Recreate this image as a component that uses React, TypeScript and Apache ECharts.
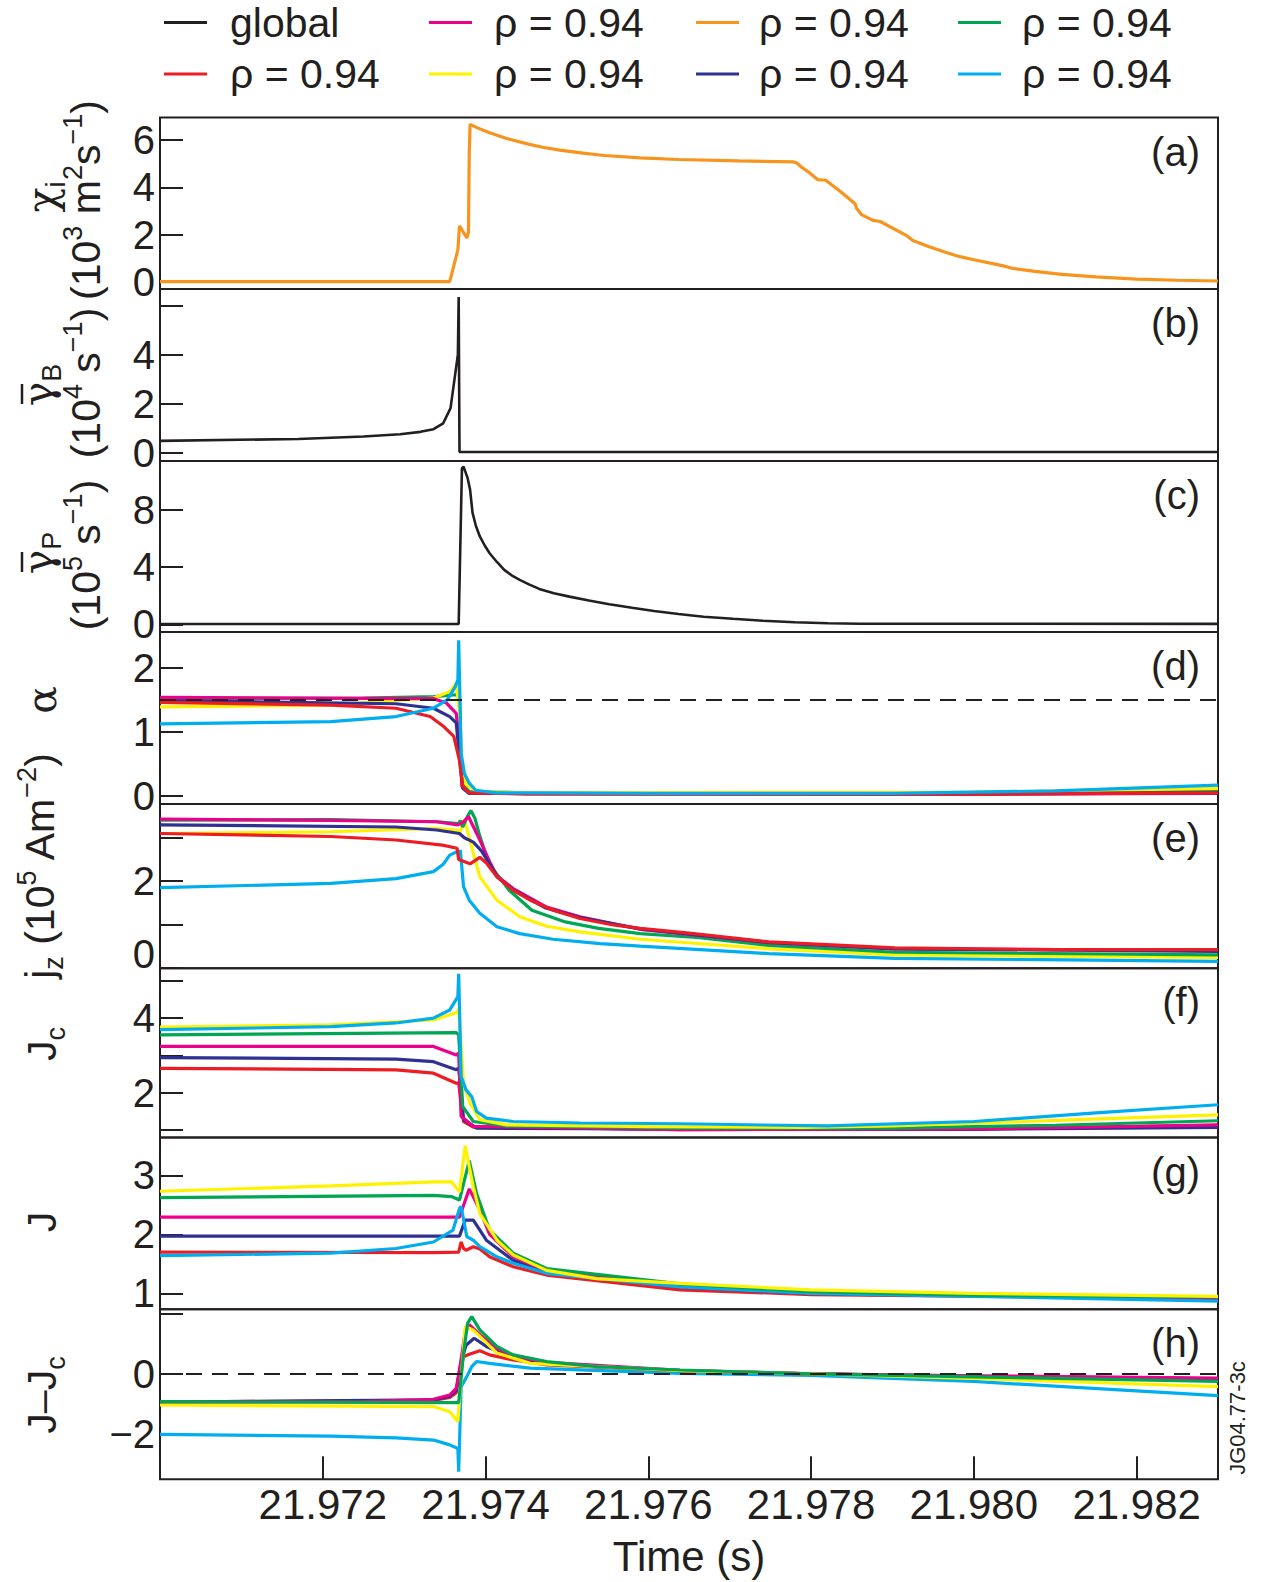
import React, { useEffect, useRef } from 'react';
import * as echarts from 'echarts';

// ---------------- data ----------------
const X_MIN = 21.970;
const X_MAX = 21.983;
const X_TICKS = [21.972, 21.974, 21.976, 21.978, 21.980, 21.982];

// (a) chi_i (10^3 m^2 s^-1)
const CHI_I = [[21.9700,0],[21.97356,0],[21.97366,1.35],[21.97368,2.37],[21.97377,1.85],[21.97379,2.1],[21.97380,5.5],[21.97381,6.67],[21.97390,6.52],[21.97405,6.31],[21.97425,6.08],[21.97454,5.82],[21.97470,5.70],[21.97491,5.58],[21.97520,5.45],[21.97546,5.35],[21.97590,5.25],[21.97637,5.18],[21.97711,5.12],[21.97778,5.08],[21.97782,5.04],[21.97787,4.89],[21.97798,4.62],[21.97808,4.33],[21.97818,4.30],[21.97836,3.82],[21.97854,3.30],[21.97856,3.10],[21.97862,2.84],[21.97876,2.60],[21.97885,2.55],[21.97918,1.94],[21.97925,1.75],[21.97945,1.48],[21.97967,1.23],[21.97983,1.06],[21.98000,0.93],[21.98035,0.68],[21.98047,0.57],[21.98075,0.44],[21.98108,0.31],[21.98150,0.20],[21.98200,0.11],[21.98250,0.06],[21.98300,0.03]];

// (b) gamma_B (10^4 s^-1)
const GAMMA_B = [[21.9700,0.48],[21.9717,0.56],[21.9725,0.66],[21.97295,0.75],[21.97320,0.85],[21.97336,0.96],[21.97348,1.2],[21.97357,1.82],[21.97366,4.0],[21.97367,6.35],[21.97368,0.03],[21.9830,0.03]];

// (c) gamma_P (10^5 s^-1)
const GAMMA_P = [[21.9700,0.02],[21.97367,0.02],[21.97371,10.9],[21.97373,11.0],[21.97378,10.2],[21.97381,9.4],[21.97384,7.8],[21.97388,6.9],[21.97393,6.13],[21.97399,5.5],[21.97405,4.96],[21.97414,4.35],[21.97423,3.80],[21.97432,3.42],[21.97442,3.10],[21.97454,2.77],[21.97466,2.47],[21.97484,2.17],[21.97503,1.93],[21.97527,1.66],[21.97552,1.40],[21.97580,1.15],[21.97607,0.93],[21.97637,0.72],[21.97668,0.53],[21.97704,0.38],[21.97741,0.25],[21.97780,0.14],[21.97821,0.07],[21.9786,0.04],[21.9830,0.03]];

// (d) alpha
const ALPHA_RED = [[21.9700,1.46],[21.9721,1.42],[21.9729,1.37],[21.97332,1.24],[21.97349,1.08],[21.97361,0.93],[21.97368,0.55],[21.97372,0.15],[21.97380,0.05],[21.9745,0.03],[21.9800,0.03],[21.9830,0.05]];
const ALPHA_NAVY = [[21.9700,1.49],[21.9729,1.44],[21.97336,1.37],[21.97356,1.24],[21.97364,1.14],[21.97368,0.6],[21.97372,0.12],[21.9738,0.04],[21.9800,0.03],[21.9830,0.05]];
const ALPHA_MAGENTA = [[21.9700,1.54],[21.97336,1.52],[21.97352,1.45],[21.97364,1.29],[21.97368,0.8],[21.97371,0.15],[21.9738,0.04],[21.9800,0.03],[21.9830,0.04]];
const ALPHA_GREEN = [[21.9700,1.52],[21.9725,1.53],[21.97336,1.55],[21.97364,1.58],[21.97368,1.56],[21.97370,0.6],[21.97374,0.15],[21.97380,0.07],[21.9745,0.05],[21.9800,0.05],[21.9830,0.09]];
const ALPHA_YELLOW = [[21.9700,1.39],[21.9721,1.42],[21.97336,1.53],[21.97356,1.63],[21.97364,1.76],[21.97368,1.3],[21.97371,0.4],[21.97376,0.18],[21.9739,0.07],[21.9745,0.05],[21.9800,0.06],[21.9830,0.12]];
const ALPHA_CYAN = [[21.9700,1.125],[21.9721,1.16],[21.9729,1.24],[21.97336,1.37],[21.97353,1.50],[21.97363,1.71],[21.97366,1.82],[21.97367,2.43],[21.97370,0.67],[21.97374,0.35],[21.97380,0.20],[21.97388,0.09],[21.97413,0.05],[21.9760,0.04],[21.9790,0.04],[21.9810,0.08],[21.9830,0.17]];
const ALPHA_REF = [[X_MIN,1.5],[X_MAX,1.5]];

// (e) j_z (10^5 A m^-2)
const JZ_RED = [[21.9700,3.10],[21.9721,3.03],[21.9729,2.95],[21.97347,2.83],[21.97365,2.76],[21.97367,2.50],[21.97381,2.40],[21.97393,2.55],[21.97401,2.42],[21.97414,2.10],[21.97434,1.79],[21.97455,1.56],[21.97483,1.33],[21.97516,1.14],[21.97557,0.99],[21.97590,0.91],[21.9765,0.80],[21.97748,0.60],[21.97903,0.46],[21.9810,0.42],[21.9830,0.42]];
const JZ_MAGENTA = [[21.9700,3.43],[21.9721,3.40],[21.97340,3.37],[21.97366,3.30],[21.97372,3.35],[21.97379,3.49],[21.97393,2.95],[21.97405,2.45],[21.97414,2.12],[21.97434,1.83],[21.97474,1.41],[21.97516,1.18],[21.97590,0.89],[21.97748,0.58],[21.97903,0.44],[21.9830,0.40]];
const JZ_NAVY = [[21.9700,3.30],[21.9729,3.25],[21.97340,3.18],[21.97368,3.10],[21.97374,3.0],[21.97385,2.9],[21.97395,2.7],[21.97405,2.40],[21.97414,2.10],[21.97434,1.80],[21.97474,1.38],[21.97516,1.16],[21.97590,0.90],[21.97748,0.59],[21.97903,0.44],[21.9830,0.38]];
const JZ_GREEN = [[21.9700,3.41],[21.9721,3.42],[21.97340,3.37],[21.97367,3.33],[21.97369,3.40],[21.97372,3.25],[21.97378,3.50],[21.97382,3.63],[21.97387,3.45],[21.97392,3.10],[21.97404,2.41],[21.97429,1.79],[21.97457,1.33],[21.97498,1.06],[21.97539,0.91],[21.97590,0.79],[21.9766,0.70],[21.97748,0.52],[21.97903,0.36],[21.9830,0.30]];
const JZ_YELLOW = [[21.9700,3.10],[21.9721,3.14],[21.97340,3.22],[21.97365,3.18],[21.97368,3.10],[21.97374,3.43],[21.97385,2.64],[21.97393,2.10],[21.97414,1.56],[21.97442,1.18],[21.97475,0.96],[21.97516,0.83],[21.97590,0.66],[21.97748,0.44],[21.97903,0.30],[21.9830,0.24]];
const JZ_CYAN = [[21.9700,1.85],[21.9721,1.95],[21.9729,2.06],[21.97336,2.22],[21.97348,2.39],[21.97356,2.60],[21.97367,2.70],[21.97368,2.60],[21.97369,2.72],[21.97373,1.87],[21.97380,1.56],[21.97393,1.26],[21.97414,0.95],[21.97442,0.79],[21.97483,0.66],[21.97541,0.56],[21.97590,0.50],[21.97748,0.33],[21.97903,0.22],[21.9830,0.15]];

// (f) J_c
const JC_YELLOW = [[21.9700,3.76],[21.9721,3.82],[21.97336,3.95],[21.97365,4.15],[21.97367,4.24],[21.97373,2.25],[21.97381,1.72],[21.97393,1.27],[21.97426,1.13],[21.9760,1.08],[21.9779,1.06],[21.9790,1.10],[21.9810,1.25],[21.9830,1.40]];
const JC_CYAN = [[21.9700,3.69],[21.9721,3.77],[21.9729,3.87],[21.97336,4.0],[21.97356,4.22],[21.97366,4.58],[21.97367,5.19],[21.97370,2.43],[21.97376,2.07],[21.97383,1.89],[21.97389,1.49],[21.97401,1.31],[21.97434,1.22],[21.97516,1.18],[21.9764,1.16],[21.9782,1.10],[21.9800,1.22],[21.9815,1.45],[21.9830,1.67]];
const JC_GREEN = [[21.9700,3.55],[21.97364,3.61],[21.97367,3.55],[21.97372,1.62],[21.97385,1.22],[21.97426,1.10],[21.9764,1.04],[21.9790,1.04],[21.9810,1.12],[21.9830,1.24]];
const JC_MAGENTA = [[21.9700,3.24],[21.97336,3.24],[21.97364,3.01],[21.97367,3.06],[21.97370,1.36],[21.97385,1.09],[21.9764,1.0],[21.9800,1.02],[21.9830,1.13]];
const JC_NAVY = [[21.9700,2.94],[21.9729,2.90],[21.97336,2.83],[21.97364,2.61],[21.97367,2.66],[21.97373,1.27],[21.97389,1.04],[21.9764,1.02],[21.9800,1.01],[21.9830,1.06]];
const JC_RED = [[21.9700,2.65],[21.9729,2.61],[21.97336,2.52],[21.97364,2.25],[21.97367,2.25],[21.97373,1.22],[21.97385,1.07],[21.9764,1.0],[21.9800,1.02],[21.9830,1.12]];

// (g) J
const J_YELLOW = [[21.9700,2.73],[21.9721,2.82],[21.97336,2.89],[21.97358,2.89],[21.97368,2.72],[21.97375,3.50],[21.97385,2.80],[21.97393,2.35],[21.97414,1.90],[21.97434,1.65],[21.97475,1.39],[21.97536,1.25],[21.97639,1.17],[21.9780,1.06],[21.9800,1.0],[21.9830,0.95]];
const J_GREEN = [[21.9700,2.62],[21.97336,2.66],[21.97358,2.64],[21.97368,2.58],[21.97380,3.25],[21.97389,2.69],[21.97405,2.07],[21.97434,1.68],[21.97475,1.42],[21.97639,1.16],[21.9780,1.03],[21.9800,0.97],[21.9830,0.94]];
const J_MAGENTA = [[21.9700,2.29],[21.97368,2.29],[21.97372,2.45],[21.97380,2.77],[21.97393,2.41],[21.97405,2.0],[21.97434,1.62],[21.97475,1.38],[21.97639,1.13],[21.9780,1.01],[21.9830,0.92]];
const J_NAVY = [[21.9700,1.97],[21.97368,1.97],[21.97375,2.24],[21.97385,2.24],[21.97401,1.90],[21.97434,1.56],[21.97475,1.36],[21.97639,1.11],[21.9780,1.0],[21.9830,0.91]];
const J_RED = [[21.9700,1.70],[21.97336,1.69],[21.97367,1.70],[21.97370,1.87],[21.97373,1.76],[21.97376,1.73],[21.97385,1.79],[21.97393,1.75],[21.97405,1.62],[21.97434,1.45],[21.97475,1.31],[21.97639,1.06],[21.9780,0.98],[21.9830,0.91]];
const J_CYAN = [[21.9700,1.64],[21.9721,1.68],[21.9729,1.76],[21.97336,1.87],[21.97360,2.07],[21.97368,2.44],[21.97370,2.47],[21.97377,1.96],[21.97385,1.90],[21.97393,1.79],[21.97414,1.62],[21.97434,1.51],[21.97475,1.34],[21.97639,1.11],[21.9780,1.0],[21.9800,0.95],[21.9830,0.87]];

// (h) J - J_c
const JJC_GREEN = [[21.9700,-0.92],[21.97367,-0.95],[21.97373,0.69],[21.97378,1.68],[21.97383,1.90],[21.97393,1.46],[21.97414,0.91],[21.97434,0.63],[21.97475,0.41],[21.97537,0.24],[21.97639,0.13],[21.9780,0.0],[21.9800,-0.1],[21.9830,-0.25]];
const JJC_YELLOW = [[21.9700,-1.03],[21.97336,-1.08],[21.97356,-1.25],[21.97366,-1.58],[21.97369,-0.5],[21.97375,1.57],[21.97385,1.45],[21.97393,1.24],[21.97414,0.69],[21.97455,0.35],[21.97639,0.11],[21.9780,0.0],[21.9800,-0.15],[21.9830,-0.42]];
const JJC_MAGENTA = [[21.9700,-0.93],[21.9725,-0.92],[21.97336,-0.84],[21.97356,-0.70],[21.97364,-0.48],[21.97369,0.3],[21.97375,1.4],[21.97380,1.63],[21.97393,1.30],[21.97414,0.85],[21.97434,0.58],[21.97475,0.38],[21.97639,0.12],[21.9780,0.0],[21.9800,-0.06],[21.9830,-0.14]];
const JJC_NAVY = [[21.9700,-0.93],[21.97336,-0.86],[21.97356,-0.74],[21.97364,-0.55],[21.97370,0.4],[21.97376,0.95],[21.97386,1.18],[21.97401,0.91],[21.97434,0.52],[21.97475,0.32],[21.97639,0.11],[21.9780,0.0],[21.9800,-0.07],[21.9830,-0.16]];
const JJC_RED = [[21.9700,-0.93],[21.97336,-0.88],[21.97356,-0.78],[21.97364,-0.62],[21.97369,0.2],[21.97373,0.57],[21.97380,0.65],[21.97393,0.77],[21.97405,0.63],[21.97434,0.46],[21.97475,0.30],[21.97639,0.11],[21.9780,0.0],[21.9800,-0.08],[21.9830,-0.18]];
const JJC_CYAN = [[21.9700,-2.0],[21.9721,-2.06],[21.9729,-2.12],[21.97336,-2.19],[21.97356,-2.35],[21.97366,-2.47],[21.97367,-3.24],[21.97370,-0.42],[21.97376,-0.14],[21.97383,0.24],[21.97389,0.41],[21.97405,0.35],[21.97455,0.19],[21.97639,0.02],[21.9780,-0.05],[21.9800,-0.25],[21.9830,-0.72]];
const JJC_REF = [[X_MIN,0],[X_MAX,0]];

// axes
const Y_RANGES = [[-0.31,6.96],[-0.34,6.68],[-0.54,11.4],[-0.125,2.56],[-0.01,3.78],[0.79,5.34],[0.73,3.64],[-3.49,2.14]];
const Y_TICKS = [[0,2,4,6],[0,2,4,6],[0,4,8],[0,1,2],[0,1,2,3],[1,2,3,4,5],[1,2,3],[-2,0,2]];
const Y_LABELS = [[0,2,4,6],[0,2,4],[0,4,8],[0,1,2],[0,2],[2,4],[1,2,3],[-2,0]];
const PANEL_LETTERS = ['(a)','(b)','(c)','(d)','(e)','(f)','(g)','(h)'];
const LEGEND_NAMES = ['global','ρ = 0.94','ρ = 0.94','ρ = 0.94','ρ = 0.94','ρ = 0.94','ρ = 0.94','ρ = 0.94'];

// ---------------- styles ----------------
const INK = '#231f20';
const C: Record<string, string> = {
  black: '#231f20', red: '#ed1c24', magenta: '#ec008c', yellow: '#fff200',
  orange: '#f7941d', navy: '#2e3192', green: '#00a651', cyan: '#00aeef',
};
const FONT = '"Liberation Sans", Arial, Helvetica, sans-serif';
const GREEK = '"DejaVu Serif", serif';
const PANEL_TOPS = [117.5, 289, 461, 632, 804, 968.3, 1137.5, 1309.3];
const PANEL_BOTTOM = 1479.3;
const GRID_LEFT = 160;
const GRID_RIGHT = 43;

const LEGEND_KEYS = ['black','red','magenta','yellow','orange','navy','green','cyan'];
const LEGEND_COL = [0, 0, 1, 1, 2, 2, 3, 3];
const LEGEND_ROW = [0, 1, 0, 1, 0, 1, 0, 1];
const LEGEND_COL_ICON = [164, 429, 696, 958];
const LEGEND_COL_TEXT = [230, 494, 759, 1022];
const LEGEND_ROW_Y = [22.5, 74];

function buildOption() {
  const panels: any[][] = [
    [{ key: 'orange', data: CHI_I }],
    [{ key: 'black', data: GAMMA_B, w: 2.6 }],
    [{ key: 'black', data: GAMMA_P, w: 2.6 }],
    [
      { key: 'green', data: ALPHA_GREEN }, { key: 'yellow', data: ALPHA_YELLOW },
      { key: 'magenta', data: ALPHA_MAGENTA }, { key: 'navy', data: ALPHA_NAVY },
      { key: 'red', data: ALPHA_RED }, { key: 'cyan', data: ALPHA_CYAN },
      { key: 'ref', data: ALPHA_REF },
    ],
    [
      { key: 'cyan', data: JZ_CYAN }, { key: 'yellow', data: JZ_YELLOW },
      { key: 'green', data: JZ_GREEN }, { key: 'magenta', data: JZ_MAGENTA },
      { key: 'navy', data: JZ_NAVY }, { key: 'red', data: JZ_RED },
    ],
    [
      { key: 'red', data: JC_RED }, { key: 'navy', data: JC_NAVY },
      { key: 'magenta', data: JC_MAGENTA }, { key: 'green', data: JC_GREEN },
      { key: 'yellow', data: JC_YELLOW }, { key: 'cyan', data: JC_CYAN },
    ],
    [
      { key: 'red', data: J_RED }, { key: 'navy', data: J_NAVY },
      { key: 'magenta', data: J_MAGENTA }, { key: 'cyan', data: J_CYAN },
      { key: 'green', data: J_GREEN }, { key: 'yellow', data: J_YELLOW },
    ],
    [
      { key: 'cyan', data: JJC_CYAN }, { key: 'red', data: JJC_RED },
      { key: 'navy', data: JJC_NAVY }, { key: 'magenta', data: JJC_MAGENTA },
      { key: 'yellow', data: JJC_YELLOW }, { key: 'green', data: JJC_GREEN },
      { key: 'ref', data: JJC_REF },
    ],
  ];

  const grid = PANEL_TOPS.map((top, i) => ({
    left: GRID_LEFT, right: GRID_RIGHT, top,
    height: (i < 7 ? PANEL_TOPS[i + 1] : PANEL_BOTTOM) - top,
    outerBoundsMode: 'none', containLabel: false,
    show: true, borderColor: INK, borderWidth: 2, backgroundColor: 'transparent',
  }));

  const last = PANEL_TOPS.length - 1;
  const xAxis = PANEL_TOPS.map((_, i) => ({
    type: 'value', gridIndex: i, min: X_MIN, max: X_MAX, position: 'bottom',
    axisLine: { show: false, onZero: false }, splitLine: { show: false },
    axisTick: i === last
      ? { show: true, inside: true, length: 23, customValues: X_TICKS, lineStyle: { color: INK, width: 2 } }
      : { show: false },
    axisLabel: i === last
      ? { show: true, customValues: X_TICKS, margin: 4, fontSize: 42, fontFamily: FONT, color: INK,
          formatter: (v: number) => v.toFixed(3) }
      : { show: false },
    name: i === last ? 'Time (s)' : '',
    nameLocation: 'middle', nameGap: 56,
    nameTextStyle: { fontSize: 42, fontFamily: FONT, color: INK },
  }));

  const yAxis = PANEL_TOPS.map((_, i) => ({
    type: 'value', gridIndex: i, min: Y_RANGES[i][0], max: Y_RANGES[i][1], position: 'left',
    axisLine: { show: false, onZero: false }, splitLine: { show: false },
    axisTick: { show: true, inside: true, length: 23, customValues: Y_TICKS[i], lineStyle: { color: INK, width: 2 } },
    axisLabel: {
      show: true, customValues: Y_LABELS[i], margin: 5, fontSize: 40, fontFamily: FONT, color: INK,
      formatter: (v: number) => {
        const s = v < 0 ? '\u2212' + Math.abs(v) : String(v);
        return i === 4 && v === 0 ? '{up|' + s + '}' : s;
      },
      rich: { up: { fontSize: 40, fontFamily: FONT, color: INK, padding: [0, 0, 28, 0] } },
    },
  }));

  const series: any[] = [];
  panels.forEach((list, i) => {
    list.forEach((s: any) => {
      const isRef = s.key === 'ref';
      series.push({
        type: 'line', xAxisIndex: i, yAxisIndex: i,
        name: isRef ? 'reference' : (s.key === 'black' ? 'global' : 'ρ = 0.94 ' + s.key),
        data: s.data, showSymbol: false, symbol: 'none', silent: true,
        z: isRef ? 5 : 2,
        lineStyle: isRef
          ? { color: INK, width: 2, type: [16, 10] }
          : { color: C[s.key], width: s.w || 3.2 },
        itemStyle: { color: isRef ? INK : C[s.key] },
      });
    });
  });

  const graphic: any[] = [];
  // legend
  LEGEND_KEYS.forEach((k, idx) => {
    const col = LEGEND_COL[idx];
    const y = LEGEND_ROW_Y[LEGEND_ROW[idx]];
    graphic.push({
      type: 'line', silent: true,
      shape: { x1: LEGEND_COL_ICON[col], y1: y, x2: LEGEND_COL_ICON[col] + 43, y2: y },
      style: { stroke: C[k], lineWidth: 3 },
    });
    graphic.push({
      type: 'text', silent: true, x: LEGEND_COL_TEXT[col], y,
      style: { text: LEGEND_NAMES[idx], fill: INK, fontSize: 41, fontFamily: FONT, align: 'left', verticalAlign: 'middle' },
    });
  });
  // panel letters
  PANEL_LETTERS.forEach((t, i) => {
    graphic.push({
      type: 'text', silent: true, x: 1200, y: PANEL_TOPS[i] + 34,
      style: { text: t, fill: INK, fontSize: 40, fontFamily: FONT, align: 'right', verticalAlign: 'middle' },
    });
  });
  // y-axis names (rotated)
  const rich = {
    n: { fontSize: 41, fontFamily: FONT, fill: INK, lineHeight: 54 },
    g: { fontSize: 41, fontFamily: GREEK, fill: INK, lineHeight: 54 },
    sup: { fontSize: 27, fontFamily: FONT, fill: INK, verticalAlign: 'top', lineHeight: 27 },
    sub: { fontSize: 27, fontFamily: FONT, fill: INK, verticalAlign: 'bottom', lineHeight: 27 },
  };
  const names: [string, number, number][] = [
    ['{g|\u03c7}{sub|i}', 42, 197],
    ['{n|(10}{sup|3}{n| m}{sup|2}{n|s}{sup|\u22121}{n|)}', 86, 200],
    ['{g|\u03b3}{sub|B}', 38, 385],
    ['{n|(10}{sup|4}{n| s}{sup|\u22121}{n|)}', 86, 383],
    ['{g|\u03b3}{sub|P}', 38, 553],
    ['{n|(10}{sup|5}{n| s}{sup|\u22121}{n|)}', 86, 555],
    ['{g|\u03b1}', 42, 700],
    ['{n|j}{sub|z}{n| (10}{sup|5}{n| Am}{sup|\u22122}{n|)}', 40, 866],
    ['{n|J}{sub|c}', 42, 1044],
    ['{n|J}', 42, 1222],
    ['{n|J\u2013J}{sub|c}', 42, 1395],
  ];
  names.forEach(([text, x, y]) => {
    graphic.push({
      type: 'text', silent: true, x, y, rotation: Math.PI / 2,
      style: { text, rich, fill: INK, fontSize: 41, fontFamily: FONT, align: 'center', verticalAlign: 'middle' },
    });
  });
  // overbars on the gamma symbols
  [[385], [553]].forEach(([cy]) => {
    graphic.push({
      type: 'line', silent: true,
      shape: { x1: 22, y1: cy - 1, x2: 22, y2: cy + 19 },
      style: { stroke: INK, lineWidth: 2.5 },
    });
  });
  graphic.push({
    type: 'text', silent: true, x: 1237, y: 1418, rotation: Math.PI / 2,
    style: { text: 'JG04.77-3c', fill: INK, fontSize: 22, fontFamily: FONT, align: 'center', verticalAlign: 'middle' },
  });

  return {
    animation: false,
    backgroundColor: '#ffffff',
    grid, xAxis, yAxis, series, graphic,
  };
}

export default function App() {
  const ref = useRef<HTMLDivElement>(null);
  useEffect(() => {
    document.body.style.margin = '0';
    const chart = echarts.init(ref.current!, null, { renderer: 'svg' });
    chart.setOption(buildOption() as any);
    return () => chart.dispose();
  }, []);
  return <div ref={ref} style={{ width: 1261, height: 1582 }} />;
}
